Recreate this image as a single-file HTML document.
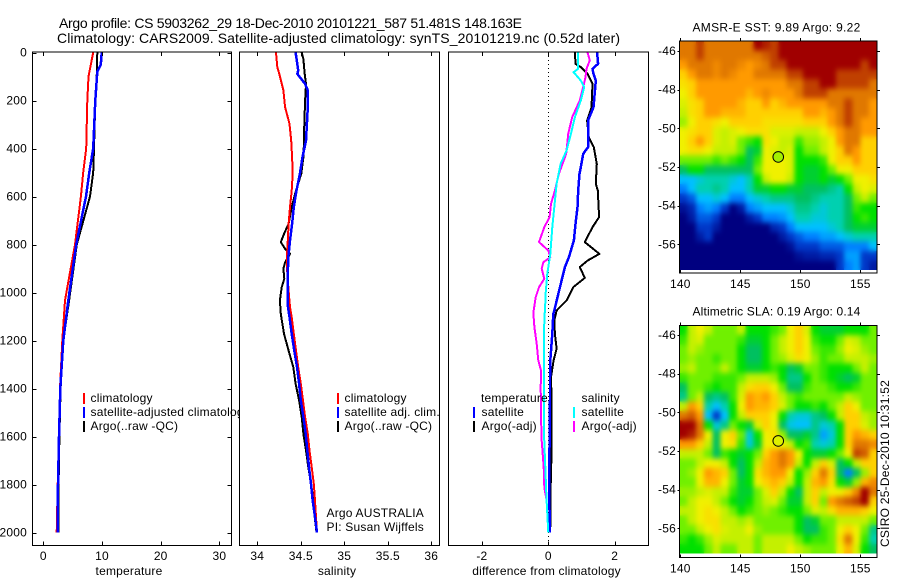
<!DOCTYPE html>
<html>
<head>
<meta charset="utf-8">
<title>Argo profile chart</title>
<style>
html,body{margin:0;padding:0;background:#fff;width:900px;height:580px;overflow:hidden}
svg{display:block}
text{font-family:"Liberation Sans",sans-serif;font-size:12px;fill:#000;letter-spacing:0.2px}
</style>
</head>
<body>
<svg id="chart" xmlns="http://www.w3.org/2000/svg" width="900" height="580" viewBox="0 0 900 580">
<defs>
<filter id="mapSmooth" x="0" y="0" width="1" height="1" color-interpolation-filters="sRGB">
<feGaussianBlur in="SourceGraphic" stdDeviation="2.4 3" result="soft"/>
<feMerge><feMergeNode in="SourceGraphic"/><feMergeNode in="soft"/></feMerge>
</filter>
<clipPath id="sstClip"><rect x="679.5" y="41" width="197.5" height="229"/></clipPath>
<clipPath id="slaClip"><rect x="679.5" y="325.5" width="197.5" height="228"/></clipPath>
</defs>
<rect x="0" y="0" width="900" height="580" fill="#fff"/>
<text x="59" y="28" style="font-size:14px;letter-spacing:0" textLength="463">Argo profile: CS 5903262_29 18-Dec-2010 20101221_587 51.481S 148.163E</text>
<text x="57" y="43" style="font-size:14px;letter-spacing:0" textLength="563">Climatology: CARS2009. Satellite-adjusted climatology: synTS_20101219.nc (0.52d later)</text>
<g id="layer"></g>
</svg>
<script>
// ---------- tick labels ----------
const depthTicks = [0,200,400,600,800,1000,1200,1400,1600,1800,2000];
const tempTicks = [0,10,20,30];
const salTicks = [34,34.5,35,35.5,36];
const salTickLabels = ['34','34.5','35','35.5','36'];
const diffTicks = [-2,0,2];
const lonTicks = [140,145,150,155];
const latTicks = [-46,-48,-50,-52,-54,-56];

// ---------- temperature panel ----------
const tClimDepth = [0,100,200,400,500,600,800,1033,1200,1400,1600,1800,2000];
const tClimValue = [8.5,7.7,7.5,7.3,6.8,6.4,5.4,3.7,3.24,2.85,2.67,2.45,2.28];
const tSatDepth = [0,50,80,200,400,500,600,800,1033,1200,1400,1600,1800,2000];
const tSatValue = [9.95,9.8,9.2,8.86,8.5,7.84,7.27,5.6,4.26,3.4,2.9,2.67,2.5,2.45];
const tArgoDepth = [0,100,200,400,500,600,800,1033,1200,1400,1600,1800,2000];
const tArgoValue = [9.2,9.1,8.86,8.64,8.5,7.95,5.7,4.4,3.4,2.95,2.75,2.6,2.56];

// ---------- salinity panel ----------
const sClimDepth = [0,61,89,158,228,297,367,436,505,575,644,714,783,853,922,992,1061,1102,1172,1242,1311,1380,1450,1519,1589,1658,1728,1797,1867,1936,2000];
const sClimValue = [34.215,34.23,34.253,34.3,34.32,34.37,34.39,34.4,34.407,34.395,34.376,34.36,34.35,34.34,34.345,34.36,34.376,34.395,34.42,34.445,34.47,34.5,34.525,34.55,34.58,34.6,34.625,34.65,34.663,34.675,34.686];
const sSatDepth = [0,47,75,89,103,131,158,228,297,367,436,505,575,644,714,783,853,922,992,1061,1102,1172,1242,1311,1380,1450,1519,1589,1658,1728,1797,1867,1936,2000];
const sSatValue = [34.44,34.46,34.47,34.46,34.49,34.55,34.58,34.58,34.57,34.56,34.52,34.49,34.45,34.42,34.4,34.376,34.356,34.35,34.35,34.353,34.37,34.395,34.425,34.456,34.48,34.5,34.53,34.556,34.575,34.594,34.617,34.637,34.663,34.686];
const sArgoDepth = [0,28,89,131,200,297,367,436,505,575,644,714,749,790,818,839,874,901,943,978,1033,1089,1172,1242,1311,1380,1450,1519,1589,1658,1728,1797,1867,1936,2000];
const sArgoValue = [34.51,34.53,34.545,34.56,34.55,34.54,34.537,34.53,34.506,34.445,34.395,34.36,34.315,34.27,34.32,34.376,34.32,34.3,34.31,34.28,34.26,34.27,34.307,34.36,34.414,34.44,34.48,34.51,34.53,34.56,34.586,34.617,34.65,34.66,34.68];

// ---------- difference panel ----------
const dTSatDepth = [0,47,68,89,117,228,283,394,422,478,505,575,644,714,783,853,894,950,1006,1075,1089,1172,1283,1353,1450,1728,1867,2000];
const dTSatValue = [1.47,1.5,1.33,1.36,1.43,1.36,1.2,1.2,1.05,0.98,0.94,0.9,0.88,0.82,0.77,0.62,0.5,0.4,0.3,0.18,0.15,0.12,0.06,0.05,0.05,0.03,0.03,0.05];
const dTArgoDepth = [0,47,61,89,131,228,283,353,394,464,547,575,686,728,790,839,867,894,939,978,1033,1075,1117,1172,1234,1283,1353,1450,1658,1867,1978];
const dTArgoValue = [0.8,0.82,0.98,1.18,1.33,1.3,1.17,1.22,1.37,1.46,1.43,1.49,1.53,1.33,1.1,1.54,1.18,0.95,1.1,0.75,0.55,0.25,0.18,0.2,0.25,0.16,0.08,0.1,0.1,0.06,0.06];
const dSSatDepth = [0,68,82,96,117,144,200,269,339,408,464,547,644,728,839,922,1006,1075,1102,1311,1450,1589,1728,1867,2000];
const dSSatValue = [0.9,0.9,0.76,0.85,0.98,1.08,0.98,0.8,0.68,0.55,0.37,0.25,0.18,0.12,0.06,-0.03,-0.08,-0.1,-0.12,-0.13,-0.13,-0.13,-0.09,-0.05,0];
const dSArgoDepth = [0,33,68,103,144,200,269,339,422,505,575,631,686,728,790,825,853,874,901,943,978,1019,1075,1089,1144,1214,1283,1325,1394,1519,1617,1728,1811,1867];
const dSArgoValue = [1.18,1.25,1.15,1.12,1.05,0.95,0.72,0.6,0.54,0.32,0.2,0.08,0.04,-0.12,-0.28,0,0.06,-0.15,-0.2,-0.12,-0.28,-0.38,-0.44,-0.45,-0.42,-0.35,-0.3,-0.22,-0.23,-0.22,-0.2,-0.14,-0.12,-0.05];

// ---------- map values (colour level 0 = coldest/lowest, 14 = warmest/highest) ----------
const sstLevels = [
[12,12,13,12,12,12,12,12,12,14,13.5,13,14,14,14,14,14,14,14,14,14,14,14,14],
[12,12,13,12,12,12,12,12,12,12,12.5,13,14,14,14,14,14,14,14,14,14,14,14,14],
[11,12,12,12,11.5,12,12,11.5,11,11.5,12,13,13,14,14,14,14,14,14,14,14,14,13,14],
[10,11,12,12,11.5,12,11.5,11,11,12,12,12,12,13,13,14,14,14,14,13,13,13,13,13],
[9.5,10,11,11,11,11,11,11,11,11,11,11,11,12,12,13,13,14,14,13,13,13,13,12],
[9,10,11,11,11,11,11,11,10.5,11,11.5,11,11,11,12,13,13,13,12,12,12,12,12,12],
[8.5,9.5,10,11,11,11,11,10.5,10,10,11,10,10.5,11,11,11,11,11,12,12,13,12,12,11],
[8,9.5,10,11,11,10.5,10.5,10.5,10,10,10,10,10,10,10,11,11,10.5,11,12,13,12,12,11],
[7.5,9,10,10,9.5,9,10,10,10,10,9.5,9.5,9.5,9.5,9.5,10,10,10,11,12,13,12,11,11],
[9,9.5,10,10,8.5,8,8.5,9,9.5,9.5,9.5,8.5,8.5,8.5,8,8,8,9,10,11,12,12,11,11],
[9,10,11,10,8.5,8,8.5,7,6.5,6,9.5,9,8,8,6.5,7.5,7.5,8,9,11,12,12,10,10],
[9,9.5,9.5,9,8,8,8,7,5,5.5,9,8.5,8,8.5,6,7,7,8,9,10,12,11,10,10],
[7,7,7,7,6.5,7,6.5,6,5,6.5,9,9,9,8.5,6,6,6,6.5,9,10,10,11,10,10],
[5,6,6,5,5,5,5,5,5,7,9,9,9,8.5,6,5.5,5.5,6,7,9,9,10,10,10],
[3,3,3.5,4,4,4,3.5,3,4,6,8,9,9,8,6,5.5,5.5,6,5.5,6,7,9,9,9.5],
[2,3,4,4,4.5,4,3,3,4,5.5,5.5,6,6,5.5,5.5,5,5,5,4.5,4,6,8,9,8.5],
[1,1.5,3,3,3.5,3,2,2,3,3.5,4,4.5,4.5,4.5,5,5,4.5,4,4,4,5,7,8,7],
[0.3,0.7,2,2.5,2,1,0,0.5,2,2.5,3,3,3,3.5,4.5,4.5,4,3.5,4,4,5,6.5,6,6],
[0,0.5,1.5,1.5,1,0,0,0,0.5,1,2,2,2.3,3,4,4,3.5,3.5,4,4,5,6,6.5,6],
[0,0,1,1,0.5,0,0,0,0,0,0,0.7,1,2,3,3,3,3,3.5,4,5,5.5,5.5,5.5],
[0,0,0.5,1,0,0,0,0,0,0,0,0,0.5,1,1.5,2,2,2.5,2.5,3,3.5,4,4,4],
[0,0,0,0,0,0,0,0,0,0,0,0,0,0.3,1,1,1,1.5,1.5,1.5,2,2,2,3],
[0,0,0,0,0,0,0,0,0,0,0,0,0,0,0.3,0.5,0.5,0.7,0.7,1,2.5,2.5,1,1],
[0,0,0,0,0,0,0,0,0,0,0,0,0,0,0,0,0,0,0,1,2,2.5,1,0.5]
];
const slaLevels = [
[6,8,9,8,7,7,7,8,6,6,6,6.5,7,9,10,8.5,6,5.5,5.5,5.5,6,6,6,7],
[6.5,8,8.5,7,7,7,7,6.5,5.5,5.5,6,7,8,9,10,9,6.5,6,6,7,8.5,8,7,7],
[7,8,7.5,7,7,7,7,6,5,5,6,7,8,9,10,9,7,6.5,6.5,7.5,9,8.5,7.5,7],
[7,7.5,7,7,6.5,7,7,6,5,5,6,7,7.5,8.5,9.5,9,7.5,6.5,7,7,8,8,8,7.5],
[7.5,8,7,7,7,8,7,6,5.5,5.5,6,6.5,6,5,5.5,7,7,6.5,6,6,6,7,8,7],
[6.5,7,7,7,6.5,6.5,6.5,7,8,8,8,7.5,6,4.5,4.5,6,7,6.5,6,5.5,5,5.5,7,7],
[5,7,7,6.5,6,6.5,6.5,8,9.5,10,10,9,7,5,5,6.5,7,7,6.5,6,6,6.5,7,7],
[4.5,7,8,5,4.5,5,6.5,8.5,11,10.5,11,10,8,7,6.5,7,7,7,7,7,8,7.5,7,7],
[8,11,10,4,3,4,6,9,11,10.5,10.5,10,8.5,7,6,6,6.5,6,7,8,10,9,7,7],
[12,12.5,11,3,1,3,6,8,10,10,10,9,6,4,3.5,3.5,4.5,5,6,8,10,10,8,7.5],
[14,14,12,6,3.5,4.5,7,6,5.5,8.5,10,9,5,3.3,3,3,4.5,3.5,4,6,10,10,8.5,7.5],
[14,13.5,12,9,5,9,10,7,3.5,6,9,9.5,7.5,5,5,5.5,4.5,2.5,3.5,6,10,11,10.5,10],
[11,11,10,8,5,9,9.5,6.5,3.5,5.5,9,9,9,8,6,6.5,4,3.5,4,6,10,12,12,11.5],
[8,8,8,7,5,6.5,6,5.5,6,7,10,11,12,11,9,6,5.5,5.5,6,7,9,13,12.5,10],
[7,7,8,9,9,8,6,5,6,8,10.5,11,12,11,8,6,8,10,8.5,5,6,8,10,10],
[7,7.5,9,11,10.5,10,7,5,6,9.5,10.5,11,11,9,6,7.5,10,12,10,5,2,5,7.5,10],
[7,7,9,10.5,10.5,9,7,5.5,6,9,10,10.5,10,8,6,8,10.5,11,9.5,6,5.5,7.5,10.5,11.5],
[7.5,7.5,8,8.5,8,8,6.5,5.5,5.5,7,8.5,10,8,6,5,8,10,8,9,9,10,11.5,14,12],
[7,8,9,9,8,7,6,5.5,6,7,8,8.5,7,5.5,5.5,8,10,7,11,12,12.5,13,14,10],
[8,8,9,9.5,9,8,7,6,6.5,7,7.5,7,6.5,6,6,7,8.5,8,9.5,10.5,10.5,10.5,10,9],
[7,8,9,9.5,9.5,8,8,7.5,8,7,7,7,7,7,6,5,5.5,7,7,8,8,8,8,7],
[7,7,8,9,9.5,8.5,8,8,9,7.5,7,7,7,7,6,5,5,6.5,7,9,10,9,7,4.5],
[6.5,6,6.5,7.5,8.5,8,8,8,8,7,8,8,8,8,7,6,6.5,6.5,7,9.5,12,9,6.5,4],
[6,6,6,7,8,7,7,8,8,7,8,8,8,9,8,7.5,7,7,7,9,10.5,8.5,6,5]
];
const floatLon = [148.163];
const floatLat = [-51.481];
const sstFloatLevel = [7.6];
const slaFloatLevel = [8.6];

// ---------- helpers ----------
const NS = 'http://www.w3.org/2000/svg';
const layer = document.getElementById('layer');
const colourStops = ['#000080','#0038c8','#0080ff','#00c0ff','#00d0b0','#00c060','#00e000','#70f000','#c4f000','#f0f000','#ffd000','#ff9a00','#e07800','#c04000','#a00000'];

function hex(c){return [1,3,5].map(i=>parseInt(c.substr(i,2),16));}
function levelColour(v){
  const a=Math.max(0,Math.min(14,v));
  const i=Math.min(13,Math.floor(a));
  const f=a-i;
  const p=hex(colourStops[i]),q=hex(colourStops[i+1]);
  return 'rgb('+p.map((x,k)=>Math.round(x+(q[k]-x)*f)).join(',')+')';
}
function make(tag,attrs,parent){
  const el=document.createElementNS(NS,tag);
  for(const k in attrs){el.setAttribute(k,attrs[k]);}
  (parent||layer).appendChild(el);
  return el;
}
function seg(x1,y1,x2,y2,name,parent){
  const el=make('line',{x1:x1,y1:y1,x2:x2,y2:y2,stroke:'#000','stroke-width':1,'shape-rendering':'crispEdges'},parent);
  
  
  return el;
}
function label(x,y,str,anchor,name,parent){
  const el=make('text',{x:x,y:y,'text-anchor':anchor||'start'},parent);
  el.textContent=str;
  
  
  return el;
}

// ---------- shared depth axis ----------
const plotTop=52, plotBottom=545.5;
function yDepth(d){return 52.5+d*0.24;}

function panel(name,left,right){
  const g=make('g',{});
  
  
  const bg=make('rect',{x:left,y:plotTop,width:right-left,height:plotBottom-plotTop,fill:'#fff'},g);
  
  
  return g;
}
function frame(name,g,left,right){
  const box=make('rect',{x:left,y:plotTop,width:right-left,height:plotBottom-plotTop,fill:'none',stroke:'#000','stroke-width':1,'shape-rendering':'crispEdges'},g);
  
  
}
function series(g,depths,values,xf,colour,name,width){
  const pts=depths.map((d,i)=>xf(values[i]).toFixed(1)+','+yDepth(d).toFixed(1)).join(' ');
  const el=make('polyline',{points:pts,fill:'none',stroke:colour,'stroke-width':width||2,'shape-rendering':'crispEdges','stroke-linejoin':'round'},g);
  
  
}
function xTicks(g,ticks,labels,xf,prefix){
  ticks.forEach((t,i)=>{
    const x=Math.round(xf(t))+0.5;
    seg(x,plotTop,x,plotTop+4,prefix+'-top-tick',g);
    seg(x,plotBottom-4,x,plotBottom,prefix+'-bottom-tick',g);
    label(xf(t),560,labels[i],'middle',prefix+'-tick-label',g);
  });
}
function legend(g,x,y,colour,str,textX,name){
  const bar=make('rect',{x:x,y:y,width:2,height:11,fill:colour,'shape-rendering':'crispEdges'},g);
  
  
  label(textX,y+9,str,'start',name+'-label',g);
}

// ---------- temperature panel ----------
function xTemp(v){return 43.3+v*5.87;}
const g1=panel('temperature-panel',32.5,231.5);
series(g1,tClimDepth,tClimValue,xTemp,'#ff0000','temperature-climatology-line');
series(g1,tArgoDepth,tArgoValue,xTemp,'#000000','temperature-argo-line');
series(g1,tSatDepth,tSatValue,xTemp,'#0000ff','temperature-satellite-line',2.5);
xTicks(g1,tempTicks,tempTicks.map(String),xTemp,'temperature-x');
depthTicks.forEach(d=>{
  const y=Math.round(yDepth(d))+0.5;
  seg(32.5,y,36.5,y,'depth-left-tick',g1);
  seg(227.5,y,231.5,y,'depth-right-tick',g1);
  label(27,yDepth(d)+4,String(d),'end','depth-tick-label',g1);
});
legend(g1,83,393,'#ff0000','climatology',90.5,'legend-climatology');
legend(g1,83,407,'#0000ff','satellite-adjusted climatology',90.5,'legend-satellite-adjusted');
legend(g1,83,421,'#000000','Argo(..raw -QC)',90.5,'legend-argo-raw');
frame('temperature-panel',g1,32.5,231.5);
label(129,575,'temperature','middle','temperature-axis-title',g1);

// ---------- salinity panel ----------
function xSal(v){return 257.3+(v-34)*87;}
const g2=panel('salinity-panel',239.5,439.5);
series(g2,sArgoDepth,sArgoValue,xSal,'#000000','salinity-argo-line');
series(g2,sClimDepth,sClimValue,xSal,'#ff0000','salinity-climatology-line');
series(g2,sSatDepth,sSatValue,xSal,'#0000ff','salinity-satellite-line',2.5);
xTicks(g2,salTicks,salTickLabels,xSal,'salinity-x');
legend(g2,337,393,'#ff0000','climatology',344.5,'legend-salinity-climatology');
legend(g2,337,407,'#0000ff','satellite adj. clim.',344.5,'legend-salinity-satellite');
legend(g2,337,421,'#000000','Argo(..raw -QC)',344.5,'legend-salinity-argo');
label(326.5,517,'Argo AUSTRALIA','start','argo-program-label',g2);
label(326.5,531,'PI: Susan Wijffels','start','principal-investigator-label',g2);
frame('salinity-panel',g2,239.5,439.5);
label(337,575,'salinity','middle','salinity-axis-title',g2);

// ---------- difference panel ----------
function xDiff(v){return 548.3+v*33.2;}
const g3=panel('difference-panel',448.5,648.5);
const zero=seg(548.5,plotTop,548.5,plotBottom,'zero-reference-line',g3);
zero.setAttribute('stroke-dasharray','1 3');
series(g3,dTArgoDepth,dTArgoValue,xDiff,'#000000','difference-temperature-argo-line');
series(g3,dTSatDepth,dTSatValue,xDiff,'#0000ff','difference-temperature-satellite-line',2.5);
series(g3,dSArgoDepth,dSArgoValue,xDiff,'#ff00ff','difference-salinity-argo-line');
series(g3,dSSatDepth,dSSatValue,xDiff,'#00ffff','difference-salinity-satellite-line');
xTicks(g3,diffTicks,diffTicks.map(String),xDiff,'difference-x');
label(481,402,'temperature','start','legend-temperature-heading',g3);
legend(g3,473,407,'#0000ff','satellite',481.5,'legend-diff-temperature-satellite');
legend(g3,473,421,'#000000','Argo(-adj)',481.5,'legend-diff-temperature-argo');
label(581.5,402,'salinity','start','legend-salinity-heading',g3);
legend(g3,573,407,'#00ffff','satellite',581.5,'legend-diff-salinity-satellite');
legend(g3,573,421,'#ff00ff','Argo(-adj)',581.5,'legend-diff-salinity-argo');
frame('difference-panel',g3,448.5,648.5);
label(546.5,575,'difference from climatology','middle','difference-axis-title',g3);

// ---------- maps ----------
function lonX(lon){return 680.3+(lon-140)*12;}
function drawMap(name,levels,top,imgBottom,boxBottom,lat46,floatLevel,title,titleY,clipId){
  const g=make('g',{});
  
  
  const left=679.5,right=877;
  const cw=(right-left)/levels[0].length, ch=(imgBottom-top)/levels.length;
  const clip=make('g',{'clip-path':'url(#'+clipId+')'},g);
  
  
  const cells=make('g',{filter:'url(#mapSmooth)'},clip);
  
  
  levels.forEach((row,r)=>row.forEach((v,c)=>{
    const cell=make('rect',{x:(left+c*cw).toFixed(2),y:(top+r*ch).toFixed(2),width:(cw+0.4).toFixed(2),height:(ch+0.4).toFixed(2),fill:levelColour(v),'shape-rendering':'crispEdges'},cells);
    
    
  }));
  const box=make('rect',{x:left,y:top,width:right-left,height:boxBottom-top,fill:'none',stroke:'#000','stroke-width':1,'shape-rendering':'crispEdges'},g);
  
  
  const latY=lat=>lat46+(-46-lat)*19.33;
  lonTicks.forEach(t=>{
    const x=Math.round(lonX(t))+0.5;
    seg(x,top-3,x,top,'map-top-tick',g);
    seg(x,boxBottom-3,x,boxBottom,'map-bottom-tick',g);
    label(lonX(t),boxBottom+15,String(t),'middle','map-longitude-label',g);
  });
  latTicks.forEach(t=>{
    const y=Math.round(latY(t))+0.5;
    seg(left-2,y,left,y,'map-left-tick',g);
    seg(right,y,right+3,y,'map-right-tick',g);
    label(676,latY(t)+4,String(t),'end','map-latitude-label',g);
  });
  const dot=make('circle',{cx:lonX(floatLon[0]),cy:latY(floatLat[0]),r:5.3,fill:levelColour(floatLevel[0]),stroke:'#000','stroke-width':1},g);
  
  
  const t=label(692.5,titleY,title,'start','map-title',g);
  t.setAttribute('textLength',168);
}
drawMap('sst-map',sstLevels,41,270,273,51,sstFloatLevel,'AMSR-E SST: 9.89 Argo: 9.22',31.5,'sstClip');
drawMap('sla-map',slaLevels,325.5,553.5,557.5,335,slaFloatLevel,'Altimetric SLA: 0.19 Argo: 0.14',315.5,'slaClip');

const stamp=label(0,0,'CSIRO 25-Dec-2010 10:31:52','start','timestamp-label');
stamp.setAttribute('textLength',167);
stamp.setAttribute('transform','translate(889,547) rotate(-90)');
</script>
</body>
</html>
